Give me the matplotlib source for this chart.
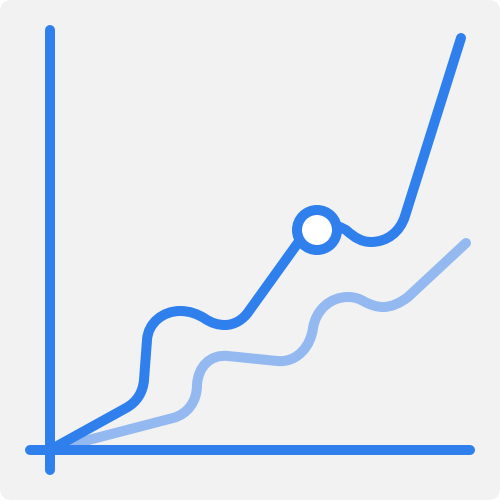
import matplotlib.pyplot as plt
from matplotlib.path import Path
from matplotlib.patches import PathPatch, FancyBboxPatch, Circle

# values (pixels from top left), curves as bezier control points
dark_x = [50, 126, 137, 143, 144, 147, 148, 163, 180, 190, 197, 204, 211, 218, 225, 234, 243, 249, 300]
dark_y = [450, 408, 402, 392, 380, 340, 323, 311, 311, 311, 314, 318, 323, 325, 325, 325, 320, 311, 240]
dark_codes = ['M', 'L', 'C', 'C', 'C', 'L', 'C', 'C', 'C', 'C', 'C', 'C', 'C', 'C', 'C', 'C', 'C', 'C', 'L']

dark2_x = [340, 346, 355, 362, 371, 387, 400, 405, 461]
dark2_y = [227, 230, 238, 242, 242, 242, 232, 216, 38]
dark2_codes = ['M', 'L', 'C', 'C', 'C', 'C', 'C', 'C', 'L']

light_x = [50, 173, 188, 197, 197, 198, 210, 228, 277, 298, 311, 313, 316, 330, 348, 355, 360, 365, 371, 377, 383, 392, 400, 408, 466]
light_y = [450, 418, 414, 401, 385, 367, 354, 356, 361, 363, 345, 328, 310, 297, 297, 297, 299, 302, 305, 307, 307, 307, 303, 297, 243]
light_codes = ['M', 'L', 'C', 'C', 'C', 'C', 'C', 'C', 'L', 'C', 'C', 'C', 'C', 'C', 'C', 'C', 'C', 'C', 'C', 'C', 'C', 'C', 'C', 'C', 'L']

x_axis_x = [30, 470]
x_axis_y = [450, 450]
y_axis_x = [50, 50]
y_axis_y = [30, 470]
marker_x = [317]
marker_y = [230]

BLUE = '#2F80ED'
LIGHT = '#93B9F0'
LW = 7.2

code_map = {'M': Path.MOVETO, 'L': Path.LINETO, 'C': Path.CURVE4}


def draw_curve(ax, xs, ys, codes, colour, z):
    path = Path(list(zip(xs, ys)), [code_map[c] for c in codes])
    ax.add_patch(PathPatch(path, fill=False, edgecolor=colour, lw=LW,
                           capstyle='round', joinstyle='round', zorder=z))


fig = plt.figure(figsize=(5, 5), dpi=100)
ax = fig.add_axes([0, 0, 1, 1])
ax.set_xlim(0, 500)
ax.set_ylim(500, 0)
ax.axis('off')

ax.add_patch(FancyBboxPatch((12, 12), 476, 476, boxstyle='round,pad=12,rounding_size=12',
                            facecolor='#F2F2F2', edgecolor='none', zorder=0))

draw_curve(ax, light_x, light_y, light_codes, LIGHT, 1)
draw_curve(ax, dark_x, dark_y, dark_codes, BLUE, 2)
draw_curve(ax, dark2_x, dark2_y, dark2_codes, BLUE, 2)

ax.plot(x_axis_x, x_axis_y, color=BLUE, lw=LW, solid_capstyle='round', zorder=3)
ax.plot(y_axis_x, y_axis_y, color=BLUE, lw=LW, solid_capstyle='round', zorder=3)

ax.add_patch(Circle((marker_x[0], marker_y[0]), 20, facecolor='white', edgecolor=BLUE, lw=LW, zorder=4))

fig.savefig('out.png', dpi=100)
